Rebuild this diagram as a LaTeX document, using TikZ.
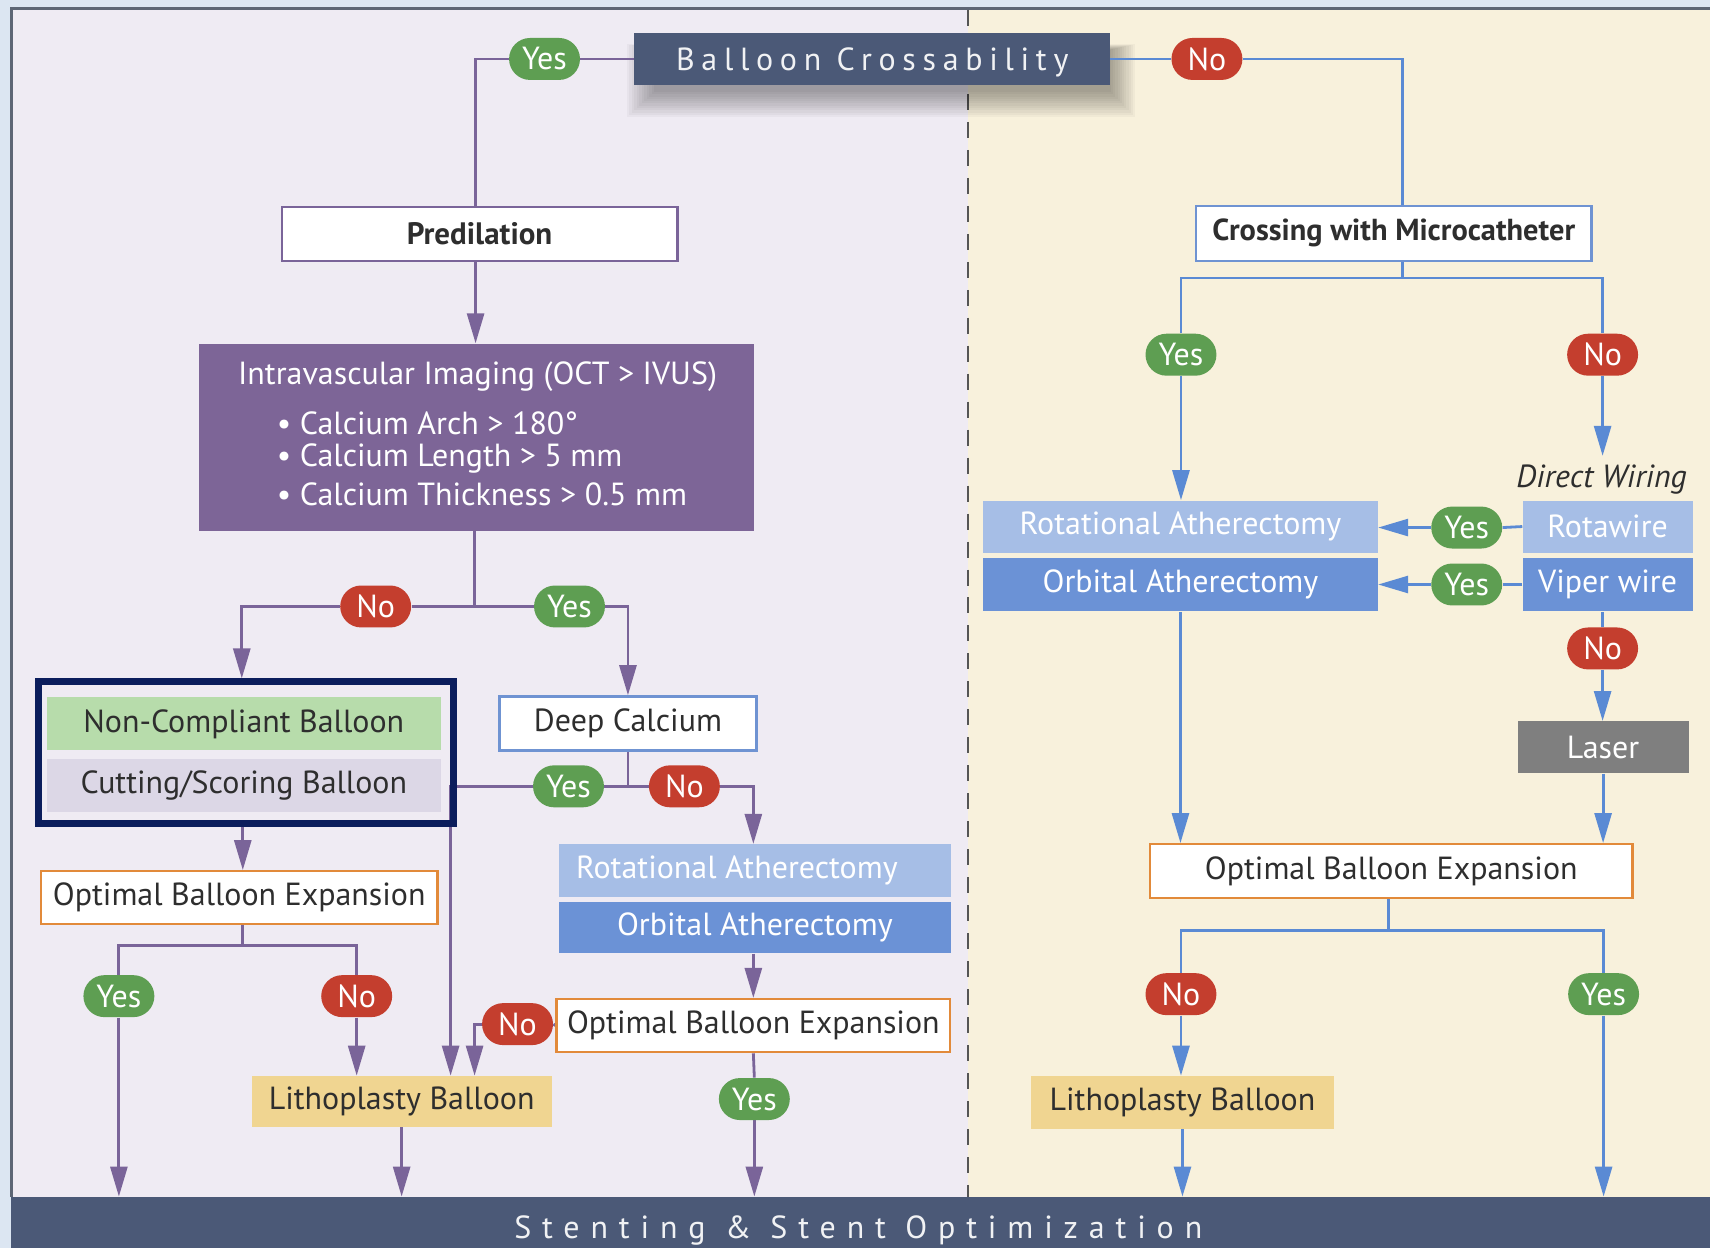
\documentclass[tikz,border=0pt]{standalone}
\usepackage{fontspec}
\setmainfont{PT Sans}
\newfontfamily\spacedA{PT Sans}[LetterSpace=21]
\newfontfamily\spacedB{PT Sans}[LetterSpace=34]
\usetikzlibrary{arrows.meta, shapes.misc, calc}
\pgfdeclarelayer{bg}
\pgfdeclarelayer{lines}
\pgfsetlayers{bg,lines,main}
\definecolor{bgblue}{HTML}{DCE6F2}
\definecolor{frameline}{HTML}{5D6675}
\definecolor{lav}{HTML}{EFEBF3}
\definecolor{cream}{HTML}{F8F1DC}
\definecolor{purp}{HTML}{7A6499}
\definecolor{purpbox}{HTML}{7D6597}
\definecolor{blu}{HTML}{5A8AD4}
\definecolor{bluborder}{HTML}{6F93D2}
\definecolor{slate}{HTML}{4B5977}
\definecolor{grn}{HTML}{5E9E52}
\definecolor{redp}{HTML}{C43E2E}
\definecolor{orng}{HTML}{E28A3A}
\definecolor{litho}{HTML}{F0D591}
\definecolor{ncg}{HTML}{B7DCAB}
\definecolor{csl}{HTML}{DCD7E6}
\definecolor{rotl}{HTML}{A6BEE6}
\definecolor{orbd}{HTML}{6B92D6}
\definecolor{laserc}{HTML}{7F7F7F}
\definecolor{navy}{HTML}{0B1D5C}
\definecolor{txt}{HTML}{2E2E2E}
\definecolor{divline}{HTML}{555555}
\tikzset{
  fnt/.style={font=\fontsize{16}{19}\selectfont},
  box/.style={rectangle, inner sep=0pt, fnt, text=txt},
  pl/.style={draw=purp, line width=1.4pt},
  bl/.style={draw=blu, line width=1.4pt},
  arr/.style={-{Triangle[length=15pt,width=8.5pt]}},
  pill/.style={rounded rectangle, inner sep=0pt, minimum width=35.5pt, minimum height=21pt, fnt, text=white},
  yes/.style={pill, fill=grn},
  no/.style={pill, fill=redp},
}
\begin{document}
\begin{tikzpicture}[x=0.5pt, y=-0.5pt]
\begin{pgfonlayer}{bg}
\fill[bgblue] (0,0) rectangle (1711,1249);
\fill[lav] (11,8) rectangle (969,1198);
\fill[cream] (969,8) rectangle (1711,1198);
\draw[frameline, line width=1.5pt] (11.5,1198) -- (11.5,8.5) -- (1711,8.5);
\draw[divline, line width=1pt, dash pattern=on 8pt off 6pt] (969,10) -- (969,1198);
\foreach \i in {0,...,11}{
  \fill[black, opacity=0.03] (655-\i*2.5,50-\i*0.5) rectangle (1112+\i*2.2,92+\i*2.3);
}
\end{pgfonlayer}
% nodes
\node[rectangle, fill=slate, minimum width=238pt, minimum height=26pt, inner sep=0pt, text depth=0pt, text={white!92!slate}, font=\spacedA\fontsize{16}{19}\selectfont] (title) at (873,59) {Balloon Crossability};
\node[yes] (yT) at (545,59) {Yes};
\node[no] (nT) at (1208,59) {No};
\node[box, draw=purp, line width=1.2pt, fill=white, minimum width=198pt, minimum height=27pt, font=\bfseries\fontsize{15.5}{19}\selectfont] (pred) at (480,234) {Predilation};
\node[rectangle, fill=purpbox, minimum width=278pt, minimum height=93.5pt, inner sep=0pt] (ivi) at (477,437.5) {};
\node[fnt, text=white] (ivit) at (478,377) {Intravascular Imaging (OCT > IVUS)};
\node[fnt, text=white, anchor=west] (b1) at (270,424) {\textbullet\ Calcium Arch > 180°};
\node[fnt, text=white, anchor=west] (b2) at (270,459) {\textbullet\ Calcium Length > 5 mm};
\node[fnt, text=white, anchor=west] (b3) at (270,495) {\textbullet\ Calcium Thickness > 0.5 mm};
\node[no] (nA) at (376,607) {No};
\node[yes] (yA) at (570,607) {Yes};
\node[box, fill=ncg, minimum width=197pt, minimum height=26.5pt] (nc) at (244,724.5) {Non-Compliant Balloon};
\node[box, fill=csl, minimum width=197pt, minimum height=26.5pt] (cs) at (244,786.5) {Cutting/Scoring Balloon};
\node[rectangle, draw=navy, line width=3.5pt, minimum width=207.5pt, minimum height=71pt, inner sep=0pt] (frame) at (246,753.5) {};
\node[box, draw=bluborder, line width=1.2pt, fill=white, minimum width=128.5pt, minimum height=27pt] (deep) at (628.5,724) {Deep Calcium};
\node[yes] (yDC) at (569,787) {Yes};
\node[no] (nDC) at (685,787) {No};
\node[box, draw=orng, line width=1.2pt, fill=white, minimum width=198.5pt, minimum height=26.5pt] (opt1) at (239.5,898.5) {Optimal Balloon Expansion};
\node[yes] (yO1) at (119,997) {Yes};
\node[no] (nO1) at (357,997) {No};
\node[box, fill=litho, minimum width=150pt, minimum height=25.5pt] (litho1) at (402,1102.5) {Lithoplasty Balloon};
\node[box, fill=rotl, text=white, minimum width=196.5pt, minimum height=26.5pt] (rot1) at (755.5,871.5) {Rotational Atherectomy\kern18pt};
\node[box, fill=orbd, text=white, minimum width=196.5pt, minimum height=25.5pt] (orb1) at (755.5,928.5) {Orbital Atherectomy};
\node[box, draw=orng, line width=1.2pt, fill=white, minimum width=197pt, minimum height=26.5pt] (opt2) at (754,1026.5) {Optimal Balloon Expansion};
\node[no] (nO2) at (518,1025) {No};
\node[yes] (yO2) at (755,1100) {Yes};
% right side
\node[box, draw=bluborder, line width=1.2pt, fill=white, minimum width=198pt, minimum height=27.5pt, font=\bfseries\fontsize{15.2}{19}\selectfont] (cross) at (1395,233.5) {Crossing with Microcatheter};
\node[yes] (yX) at (1182,355) {Yes};
\node[no] (nX) at (1604,355) {No};
\node[text=txt, font=\itshape\fontsize{16}{19}\selectfont] (dw) at (1603,480) {Direct Wiring};
\node[box, fill=rotl, text=white, minimum width=197.5pt, minimum height=26pt] (rot2) at (1181.5,527) {Rotational Atherectomy};
\node[box, fill=orbd, text=white, minimum width=197.5pt, minimum height=27pt] (orb2) at (1181.5,585) {Orbital Atherectomy};
\node[box, fill=rotl, text=white, minimum width=85pt, minimum height=26pt] (rota) at (1609,527) {Rotawire};
\node[box, fill=orbd, text=white, minimum width=85pt, minimum height=27pt] (viper) at (1609,585) {Viper wire};
\node[yes] (yR) at (1468,528) {Yes};
\node[yes] (yV) at (1468,585) {Yes};
\node[no] (nV) at (1604,649) {No};
\node[box, fill=laserc, text=white, minimum width=85.5pt, minimum height=26pt] (laser) at (1604.5,748) {Laser};
\node[box, draw=orng, line width=1.2pt, fill=white, minimum width=241.5pt, minimum height=27pt] (opt3) at (1392.5,872) {Optimal Balloon Expansion};
\node[no] (nO3) at (1182,995) {No};
\node[yes] (yO3) at (1605,995) {Yes};
\node[box, fill=litho, minimum width=151.5pt, minimum height=26.5pt] (litho2) at (1183.5,1103.5) {Lithoplasty Balloon};
% bottom bar
\node[rectangle, fill=slate, minimum width=850pt, minimum height=25.5pt, inner sep=0pt] (bar) at (861,1223.5) {};
\node[text={white!92!slate}, text depth=0pt, font=\spacedB\fontsize{16}{19}\selectfont] (bart) at (859,1228) {Stenting \& Stent Optimization};
% connectors
\begin{pgfonlayer}{lines}
\coordinate (j1) at ($(opt1.south)+(0,20)$);
\coordinate (j3) at ($(cross.south)+(8.5,16)$);
\coordinate (j4) at ($(opt3.south)+(-2.5,31)$);
% left
\draw[pl] (title.west) -- (yT.east);
\draw[pl] (yT.west) -| ($(pred.north)+(-4,0)$);
\draw[pl,arr] ($(pred.south)+(-4,0)$) -- ($(pred.south |- ivi.north)+(-4,0)$);
\draw[pl] ($(ivi.south)+(-2,0)$) -- ($(ivi.south |- nA.east)+(-2,0)$) -- (nA.east);
\draw[pl] ($(ivi.south |- yA.west)+(-2,0)$) -- (yA.west);
\draw[pl,arr] (nA.west) -| ($(frame.north)+(-4,0)$);
\draw[pl,arr] (yA.east) -| (deep.north);
\draw[pl,arr] ($(frame.south)+(-3,0)$) -- ($(frame.south |- opt1.north)+(-3,0)$);
\draw[pl] ($(opt1.south)+(3.5,0)$) -- ($(j1)+(3.5,0)$);
\draw[pl] (yO1.north) |- (j1) -| (nO1.north);
\draw[pl,arr] (yO1.south) -- (yO1.south |- bar.north);
\draw[pl,arr] (nO1.south) -- (nO1.south |- litho1.north);
\draw[pl,arr] (litho1.south) -- (litho1.south |- bar.north);
\draw[pl] (deep.south) -- (deep.south |- yDC.east) -- (yDC.east);
\draw[pl] (deep.south |- nDC.west) -- (nDC.west);
\draw[pl,arr] (yDC.west) -| ($(litho1.north)+(49,0)$);
\draw[pl,arr] (nDC.east) -| ($(rot1.north)+(-1.5,0)$);
\draw[pl,arr] ($(orb1.south)+(-1.5,0)$) -- ($(orb1.south |- opt2.north)+(-1.5,0)$);
\draw[pl] (opt2.west) -- (nO2.east);
\draw[pl,arr] (nO2.west) -| ($(litho1.north)+(73,0)$);
\draw[pl] (opt2.south) -- (yO2.north);
\draw[pl,arr] (yO2.south) -- (yO2.south |- bar.north);
% right
\draw[bl] (title.east) -- (nT.west);
\draw[bl] (nT.east) -| ($(cross.north)+(8.5,0)$);
\draw[bl] ($(cross.south)+(8.5,0)$) -- (j3);
\draw[bl] (yX.north) |- (j3) -| (nX.north);
\draw[bl,arr] (yX.south) -- (yX.south |- rot2.north);
\draw[bl,arr] (nX.south) -- ($(nX.south |- dw.north)+(0,-2)$);
\draw[bl] (rota.west) -- (yR.east);
\draw[bl,arr] (yR.west) -- (yR.west -| rot2.east);
\draw[bl] (viper.west) -- (yV.east);
\draw[bl,arr] (yV.west) -- (yV.west -| orb2.east);
\draw[bl] (nV.north |- viper.south) -- (nV.north);
\draw[bl,arr] (nV.south) -- (nV.south |- laser.north);
\draw[bl,arr] (laser.south) -- (laser.south |- opt3.north);
\draw[bl,arr] (orb2.south) -- (orb2.south |- opt3.north);
\draw[bl] (opt3.south -| j4) -- (j4);
\draw[bl] (nO3.north) |- (j4) -| (yO3.north);
\draw[bl,arr] (nO3.south) -- (nO3.south |- litho2.north);
\draw[bl,arr] (litho2.south) -- (litho2.south |- bar.north);
\draw[bl,arr] (yO3.south) -- (yO3.south |- bar.north);
\end{pgfonlayer}
\end{tikzpicture}
\end{document}
